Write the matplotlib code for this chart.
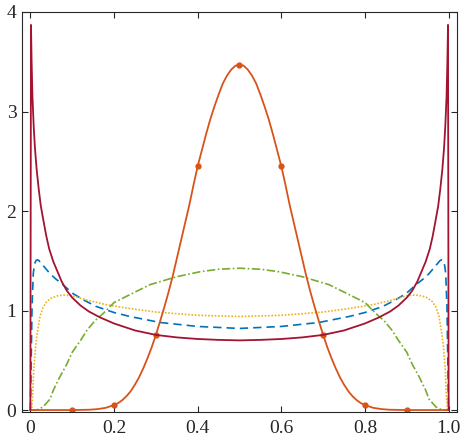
import matplotlib.pyplot as plt

plt.rcParams['font.family'] = ['Liberation Serif', 'DejaVu Serif']

# values (left half, curves are mirrored about x = 0.5)
red_x = [0.0, 0.0015, 0.003, 0.005, 0.008, 0.011, 0.015, 0.02, 0.025, 0.031,
         0.038, 0.045, 0.055, 0.065, 0.075, 0.087, 0.1, 0.12, 0.14, 0.167,
         0.2, 0.25, 0.3, 0.35, 0.4, 0.45, 0.5]
red_y = [0.0, 3.87, 3.5, 3.15, 2.85, 2.63, 2.42, 2.22, 2.05, 1.91,
         1.75, 1.62, 1.49, 1.39, 1.29, 1.20, 1.13, 1.05, 0.99, 0.93,
         0.87, 0.80, 0.755, 0.73, 0.714, 0.705, 0.70]

blue_x = [0.0, 0.0015, 0.004, 0.007, 0.009, 0.011, 0.014, 0.017, 0.021, 0.025,
          0.035, 0.047, 0.06, 0.075, 0.102, 0.13, 0.158, 0.2, 0.238, 0.31,
          0.4, 0.5]
blue_y = [0.0, 0.37, 1.04, 1.37, 1.44, 1.48, 1.505, 1.51, 1.50, 1.48,
          1.43, 1.37, 1.32, 1.27, 1.17, 1.10, 1.04, 0.98, 0.94, 0.88,
          0.84, 0.82]

yel_x = [0.0, 0.003, 0.0055, 0.008, 0.012, 0.016, 0.023, 0.03, 0.039, 0.05,
         0.063, 0.079, 0.1, 0.135, 0.18, 0.238, 0.3, 0.4, 0.5]
yel_y = [0.0, 0.0, 0.15, 0.4, 0.62, 0.76, 0.94, 1.03, 1.09, 1.125,
         1.146, 1.156, 1.15, 1.105, 1.06, 1.02, 0.985, 0.952, 0.94]

grn_x = [0.0, 0.015, 0.03, 0.047, 0.055, 0.07, 0.087, 0.1, 0.12, 0.135,
         0.155, 0.174, 0.2, 0.238, 0.286, 0.35, 0.406, 0.45, 0.5]
grn_y = [0.0, 0.0, 0.03, 0.11, 0.2, 0.33, 0.46, 0.58, 0.70, 0.80,
         0.90, 0.97, 1.08, 1.16, 1.26, 1.34, 1.39, 1.415, 1.425]

org_x = [0.0, 0.1, 0.14, 0.16, 0.18, 0.2, 0.21, 0.22, 0.23, 0.24,
         0.25, 0.26, 0.27, 0.28, 0.29, 0.3, 0.31, 0.32, 0.33, 0.34,
         0.35, 0.36, 0.37, 0.38, 0.39, 0.4, 0.41, 0.42, 0.43, 0.44,
         0.45, 0.46, 0.47, 0.48, 0.49, 0.5]
org_y = [0.0, 0.0, 0.003, 0.009, 0.022, 0.05, 0.07, 0.10, 0.14, 0.19,
         0.255, 0.33, 0.42, 0.52, 0.63, 0.755, 0.89, 1.03, 1.18, 1.34,
         1.52, 1.70, 1.88, 2.06, 2.26, 2.45, 2.61, 2.77, 2.92, 3.05,
         3.17, 3.28, 3.36, 3.42, 3.46, 3.47]

mark_x = [0.1, 0.2, 0.3, 0.4, 0.5, 0.6, 0.7, 0.8, 0.9]
mark_y = [0.0, 0.05, 0.755, 2.45, 3.47, 2.45, 0.755, 0.05, 0.0]

xticks = [0, 0.2, 0.4, 0.6, 0.8, 1.0]
xlabels = ['0', '0.2', '0.4', '0.6', '0.8', '1.0']
yticks = [0, 1, 2, 3, 4]


def full(xs, ys):
    # mirror the left half onto the right half
    xr = [1 - v for v in reversed(xs[:-1])]
    yr = list(reversed(ys[:-1]))
    return xs + xr, ys + yr


fig = plt.figure(figsize=(4.65, 4.44), dpi=100)
ax = fig.add_axes([0.0473, 0.072, 0.9355, 0.901])

x, y = full(blue_x, blue_y)
ax.plot(x, y, color='#0072BD', lw=1.2, ls=(0, (5, 3)))
x, y = full(yel_x, yel_y)
ax.plot(x, y, color='#EDB120', lw=1.2, ls=(0, (1, 1)))
x, y = full(grn_x, grn_y)
ax.plot(x, y, color='#77AC30', lw=1.2, ls=(0, (5, 1.5, 1, 1.5)))
x, y = full(org_x, org_y)
ax.plot(x, y, color='#D95319', lw=1.3)
ax.plot(mark_x, mark_y, 'o', color='#D95319', ms=3.5)
x, y = full(red_x, red_y)
ax.plot(x, y, color='#A2142F', lw=1.3)

ax.set_xlim(-0.02, 1.02)
ax.set_ylim(-0.02, 4)
ax.set_xticks(xticks)
ax.set_xticklabels(xlabels)
ax.set_yticks(yticks)
ax.tick_params(direction='in', top=True, right=True, length=4, width=0.8,
               color='#262626', labelsize=14, labelcolor='#262626')
ax.tick_params(axis='x', pad=6)
ax.tick_params(axis='y', pad=4)
for s in ax.spines.values():
    s.set_color('#262626')
    s.set_linewidth(0.8)

fig.savefig('out.png', dpi=100)
